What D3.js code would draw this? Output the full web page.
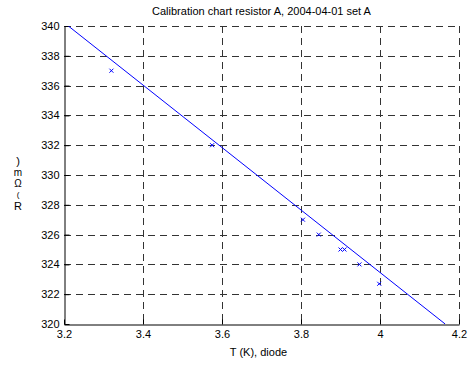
<!DOCTYPE html>
<html>
<head>
<meta charset="utf-8">
<script src="https://cdn.jsdelivr.net/npm/d3@7"></script>
<style>
  body { margin: 0; background: #fff; }
  svg { display: block; font-family: "Liberation Sans", Arial, sans-serif; }
</style>
</head>
<body>
<svg id="chart" width="469" height="367"></svg>
<script>
const titleText = "Calibration chart resistor A, 2004-04-01 set A";
const xLabelText = "T (K), diode";
const yLabelChars = [")", "m", "Ω", "(", "R"];
const xTicks = [3.2, 3.4, 3.6, 3.8, 4.0, 4.2];
const xTickLabels = ["3.2", "3.4", "3.6", "3.8", "4", "4.2"];
const yTicks = [320, 322, 324, 326, 328, 330, 332, 334, 336, 338, 340];
const measT = [3.32, 3.575, 3.805, 3.845, 3.90, 3.91, 3.948, 3.998];
const measR = [337.0, 332.0, 327.0, 326.0, 325.0, 325.0, 324.0, 322.7];
const fitT = [3.211, 4.165];
const fitR = [340, 320];

const svg = d3.select("#chart");
const m = { left: 64, right: 10, top: 26, bottom: 43 };
const W = 469, H = 367;
const x = d3.scaleLinear().domain([3.2, 4.2]).range([m.left, W - m.right]);
const y = d3.scaleLinear().domain([320, 340]).range([H - m.bottom, m.top]);

// grid
const grid = svg.append("g").attr("stroke", "#333").attr("stroke-width", 1)
  .attr("stroke-dasharray", "7,5").attr("shape-rendering", "crispEdges");
grid.selectAll("line.h").data(yTicks.filter(v => v > 320)).join("line")
  .attr("x1", x(3.2)).attr("x2", x(4.2))
  .attr("y1", d => Math.round(y(d)) + 0.5).attr("y2", d => Math.round(y(d)) + 0.5);
grid.selectAll("line.v").data(xTicks.filter(v => v > 3.2)).join("line")
  .attr("y1", y(340)).attr("y2", y(320))
  .attr("x1", d => Math.round(x(d)) + 0.5).attr("x2", d => Math.round(x(d)) + 0.5);

// axes
const xAxis = d3.axisBottom(x).tickValues(xTicks)
  .tickFormat((d, i) => xTickLabels[i]).tickSizeInner(-5).tickSizeOuter(0).tickPadding(6);
const yAxis = d3.axisLeft(y).tickValues(yTicks).tickSizeInner(-5).tickSizeOuter(0).tickPadding(5);

const gx = svg.append("g").attr("transform", `translate(0,${Math.round(y(320)) + 0.5})`).call(xAxis);
const gy = svg.append("g").attr("transform", `translate(${Math.round(x(3.2)) + 0.5},0)`).call(yAxis);
[gx, gy].forEach(g => {
  g.selectAll("text").attr("font-size", 11).attr("fill", "#000")
    .attr("font-family", "'Liberation Sans', Arial, sans-serif");
  g.selectAll("path, line").attr("stroke", "#000");
});
gx.selectAll("text").attr("dy", "0.71em");

// clip
svg.append("clipPath").attr("id", "clip").append("rect")
  .attr("x", x(3.2)).attr("y", y(340)).attr("width", x(4.2) - x(3.2)).attr("height", y(320) - y(340));

// fit line
const lineData = fitT.map((t, i) => [t, fitR[i]]);
svg.append("path").datum(lineData)
  .attr("clip-path", "url(#clip)")
  .attr("fill", "none").attr("stroke", "#0000ff").attr("stroke-width", 1)
  .attr("d", d3.line().x(d => x(d[0])).y(d => y(d[1])));

// markers
const pts = measT.map((t, i) => [t, measR[i]]);
const s = 2;
svg.append("g").selectAll("path").data(pts).join("path")
  .attr("fill", "none").attr("stroke", "#0000ff").attr("stroke-width", 1)
  .attr("d", d => {
    const cx = x(d[0]), cy = y(d[1]);
    return `M${cx - s},${cy - s}L${cx + s},${cy + s}M${cx - s},${cy + s}L${cx + s},${cy - s}`;
  });

// title
svg.append("text").attr("x", (x(3.2) + x(4.2)) / 2).attr("y", 15)
  .attr("text-anchor", "middle").attr("font-size", 11).text(titleText);

// x label
svg.append("text").attr("x", (x(3.2) + x(4.2)) / 2 - 3).attr("y", 356)
  .attr("text-anchor", "middle").attr("font-size", 11).text(xLabelText);

// y label (stacked glyphs)
const yOffs = [165, 176, 187, 197, 210];
const ySizes = [11, 10, 10, 8, 11];
svg.append("g").selectAll("text").data(yLabelChars).join("text")
  .attr("x", 18).attr("y", (d, i) => yOffs[i])
  .attr("text-anchor", "middle").attr("font-size", (d, i) => ySizes[i]).text(d => d);
</script>
</body>
</html>
